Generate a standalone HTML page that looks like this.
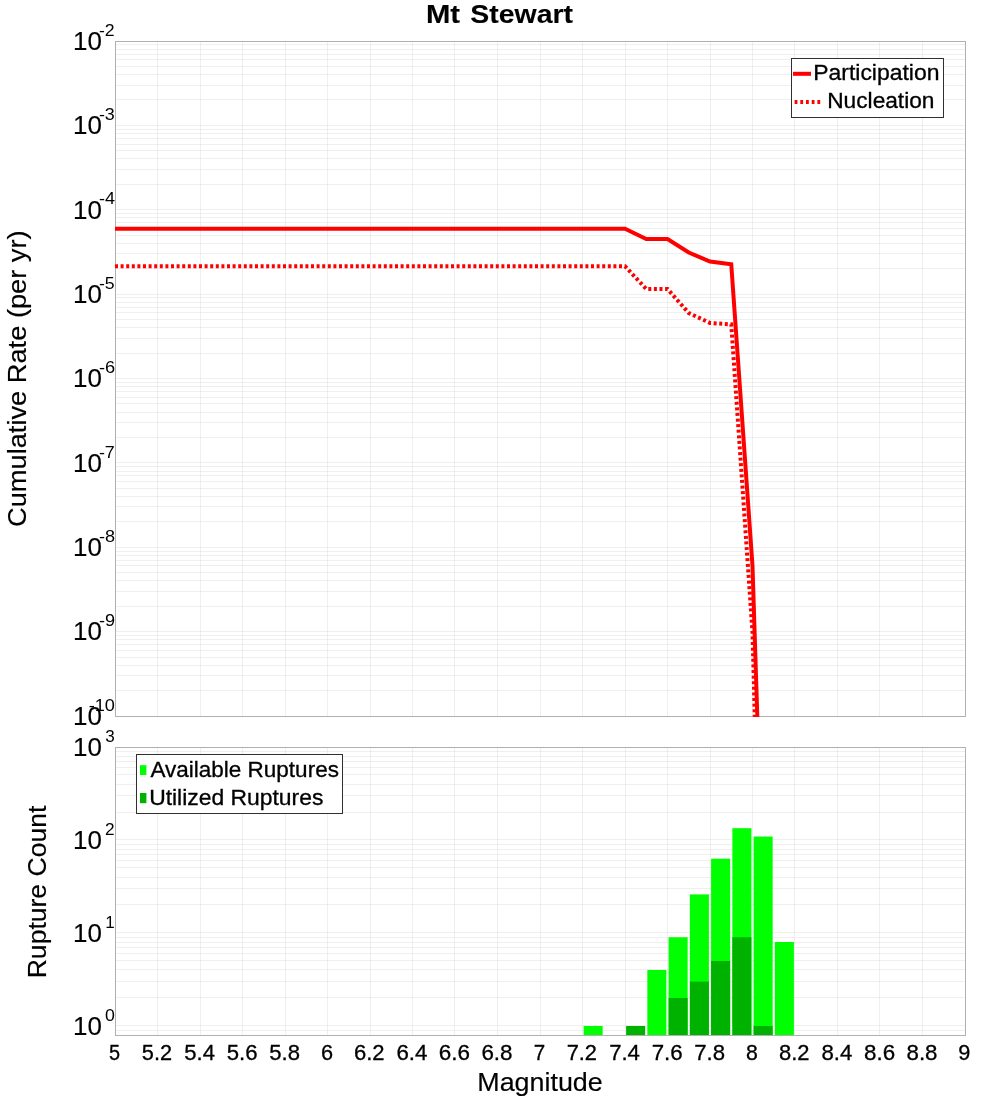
<!DOCTYPE html><html><head><meta charset="utf-8"><style>html,body{margin:0;padding:0;background:#fff;overflow:hidden}svg{display:block;will-change:transform}</style></head><body><svg width="1000" height="1100" viewBox="0 0 1000 1100" font-family="Liberation Sans, sans-serif">
<style>text{stroke:#000;stroke-width:0.35px}</style>
<rect width="1000" height="1100" fill="#fff"/>
<defs><clipPath id="cu"><rect x="115" y="41" width="851" height="676"/></clipPath><clipPath id="cl"><rect x="115" y="747" width="851" height="289"/></clipPath></defs>
<path d="M115 716.5H966M115 690.5H966M115 675.5H966M115 665.5H966M115 657.5H966M115 650.5H966M115 644.5H966M115 639.5H966M115 635.5H966M115 631.5H966M115 606.5H966M115 591.5H966M115 580.5H966M115 572.5H966M115 565.5H966M115 560.5H966M115 555.5H966M115 551.5H966M115 547.5H966M115 521.5H966M115 506.5H966M115 496.5H966M115 488.5H966M115 481.5H966M115 475.5H966M115 471.5H966M115 466.5H966M115 462.5H966M115 437.5H966M115 422.5H966M115 412.5H966M115 403.5H966M115 397.5H966M115 391.5H966M115 386.5H966M115 382.5H966M115 378.5H966M115 353.5H966M115 338.5H966M115 327.5H966M115 319.5H966M115 312.5H966M115 307.5H966M115 302.5H966M115 297.5H966M115 294.5H966M115 268.5H966M115 253.5H966M115 243.5H966M115 235.5H966M115 228.5H966M115 222.5H966M115 217.5H966M115 213.5H966M115 209.5H966M115 184.5H966M115 169.5H966M115 158.5H966M115 150.5H966M115 144.5H966M115 138.5H966M115 133.5H966M115 129.5H966M115 125.5H966M115 99.5H966M115 85.5H966M115 74.5H966M115 66.5H966M115 59.5H966M115 54.5H966M115 49.5H966M115 44.5H966M115 41.5H966" stroke="#d8d8d8" stroke-opacity="0.4" stroke-width="1" fill="none"/>
<path d="M115.5 41V717M157.5 41V717M200.5 41V717M242.5 41V717M285.5 41V717M327.5 41V717M370.5 41V717M412.5 41V717M454.5 41V717M497.5 41V717M540.5 41V717M582.5 41V717M625.5 41V717M667.5 41V717M710.5 41V717M752.5 41V717M794.5 41V717M837.5 41V717M879.5 41V717M922.5 41V717M965.5 41V717" stroke="#d8d8d8" stroke-opacity="0.4" stroke-width="1" fill="none"/>
<path d="M115 1035.5H966M115 1030.5H966M115 1025.5H966M115 997.5H966M115 981.5H966M115 969.5H966M115 960.5H966M115 953.5H966M115 947.5H966M115 942.5H966M115 937.5H966M115 932.5H966M115 904.5H966M115 888.5H966M115 877.5H966M115 867.5H966M115 860.5H966M115 854.5H966M115 849.5H966M115 844.5H966M115 839.5H966M115 812.5H966M115 795.5H966M115 784.5H966M115 774.5H966M115 767.5H966M115 761.5H966M115 756.5H966M115 751.5H966" stroke="#d8d8d8" stroke-opacity="0.4" stroke-width="1" fill="none"/>
<path d="M115.5 747V1036M157.5 747V1036M200.5 747V1036M242.5 747V1036M285.5 747V1036M327.5 747V1036M370.5 747V1036M412.5 747V1036M454.5 747V1036M497.5 747V1036M540.5 747V1036M582.5 747V1036M625.5 747V1036M667.5 747V1036M710.5 747V1036M752.5 747V1036M794.5 747V1036M837.5 747V1036M879.5 747V1036M922.5 747V1036M965.5 747V1036" stroke="#d8d8d8" stroke-opacity="0.4" stroke-width="1" fill="none"/>
<rect x="115.5" y="41.5" width="850" height="675" fill="none" stroke="#b0b0b0" stroke-width="1"/>
<rect x="115.5" y="747.5" width="850" height="288" fill="none" stroke="#b0b0b0" stroke-width="1"/>
<g clip-path="url(#cl)"><rect x="583.60" y="1025.99" width="19.05" height="9.01" fill="#00ff00"/><rect x="647.35" y="970.00" width="19.05" height="65.00" fill="#00ff00"/><rect x="668.60" y="937.25" width="19.05" height="97.75" fill="#00ff00"/><rect x="689.85" y="894.40" width="19.05" height="140.60" fill="#00ff00"/><rect x="711.10" y="858.66" width="19.05" height="176.34" fill="#00ff00"/><rect x="732.35" y="828.18" width="19.05" height="206.82" fill="#00ff00"/><rect x="753.60" y="836.52" width="19.05" height="198.48" fill="#00ff00"/><rect x="774.85" y="942.00" width="19.05" height="93.00" fill="#00ff00"/><rect x="626.10" y="1025.99" width="19.05" height="9.01" fill="#00b200"/><rect x="668.60" y="997.99" width="19.05" height="37.01" fill="#00b200"/><rect x="689.85" y="981.62" width="19.05" height="53.38" fill="#00b200"/><rect x="711.10" y="960.99" width="19.05" height="74.01" fill="#00b200"/><rect x="732.35" y="937.25" width="19.05" height="97.75" fill="#00b200"/><rect x="753.60" y="1025.99" width="19.05" height="9.01" fill="#00b200"/></g>
<g clip-path="url(#cu)"><polyline points="115.00,228.80 625.00,228.80 646.25,239.00 667.50,239.00 688.75,252.50 710.00,261.50 731.25,264.20 752.50,566.00 773.75,1230.00" fill="none" stroke="#ff0000" stroke-width="4" stroke-linejoin="miter"/><polyline points="115.00,266.20 625.00,266.20 646.25,289.00 667.50,289.00 688.75,313.00 710.00,323.00 731.25,324.40 752.50,632.50 773.75,1418.00" fill="none" stroke="#ff0000" stroke-width="4" stroke-dasharray="3 2.6" stroke-linejoin="miter"/></g>
<rect x="791.5" y="58.5" width="152" height="59" fill="#fff" stroke="#303030" stroke-width="1"/>
<line x1="793" y1="73.8" x2="811" y2="73.8" stroke="#ff0000" stroke-width="4"/>
<line x1="794.6" y1="102" x2="822" y2="102" stroke="#ff0000" stroke-width="4" stroke-dasharray="2.8 2.9"/>
<rect x="136.5" y="754.5" width="206" height="59" fill="#fff" stroke="#303030" stroke-width="1"/>
<rect x="140" y="765.2" width="6.4" height="9.8" fill="#00ff00"/>
<rect x="140" y="793" width="6.4" height="10.2" fill="#00b200"/>
<text transform="translate(813.21,79.80) scale(1.0829,1)" font-size="21.20" style="stroke-width:0.3px">Participation</text>
<text transform="translate(827.23,107.80) scale(1.0711,1)" font-size="21.20" style="stroke-width:0.3px">Nucleation</text>
<text transform="translate(150.44,777.20) scale(1.0614,1)" font-size="21.20" style="stroke-width:0.3px">Available Ruptures</text>
<text transform="translate(149.13,804.70) scale(1.0801,1)" font-size="21.20" style="stroke-width:0.3px">Utilized Ruptures</text>
<text transform="translate(425.92,23.20) scale(1.1521,1)" font-size="25.44" font-weight="bold" style="stroke-width:0.1px">Mt</text>
<text transform="translate(470.25,23.20) scale(1.1187,1)" font-size="25.44" font-weight="bold" style="stroke-width:0.1px">Stewart</text>
<text transform="translate(477.28,1091.00) scale(1.0569,1)" font-size="25.44" style="stroke-width:0.15px">Magnitude</text>
<text transform="translate(26.40,525.60) rotate(-90) scale(1.0707,1)" x="-1.27" y="0" font-size="25.44" style="stroke-width:0.15px">Cumulative Rate (per yr)</text>
<text transform="translate(46.40,976.10) rotate(-90) scale(1.0435,1)" x="-2.10" y="0" font-size="25.44" style="stroke-width:0.15px">Rupture Count</text>
<text transform="translate(108.89,1059.80) scale(0.9384,1)" font-size="21.20" style="stroke-width:0.3px">5</text>
<text transform="translate(141.78,1059.80) scale(1.0269,1)" font-size="21.20" style="stroke-width:0.3px">5.2</text>
<text transform="translate(184.26,1059.80) scale(1.0397,1)" font-size="21.20" style="stroke-width:0.3px">5.4</text>
<text transform="translate(226.76,1059.80) scale(1.0462,1)" font-size="21.20" style="stroke-width:0.3px">5.6</text>
<text transform="translate(269.26,1059.80) scale(1.0426,1)" font-size="21.20" style="stroke-width:0.3px">5.8</text>
<text transform="translate(320.95,1059.80) scale(1.0250,1)" font-size="21.20" style="stroke-width:0.3px">6</text>
<text transform="translate(353.89,1059.80) scale(1.0403,1)" font-size="21.20" style="stroke-width:0.3px">6.2</text>
<text transform="translate(396.38,1059.80) scale(1.0530,1)" font-size="21.20" style="stroke-width:0.3px">6.4</text>
<text transform="translate(438.87,1059.80) scale(1.0597,1)" font-size="21.20" style="stroke-width:0.3px">6.6</text>
<text transform="translate(481.38,1059.80) scale(1.0561,1)" font-size="21.20" style="stroke-width:0.3px">6.8</text>
<text transform="translate(533.76,1059.80) scale(0.9693,1)" font-size="21.20" style="stroke-width:0.3px">7</text>
<text transform="translate(566.65,1059.80) scale(1.0312,1)" font-size="21.20" style="stroke-width:0.3px">7.2</text>
<text transform="translate(609.14,1059.80) scale(1.0440,1)" font-size="21.20" style="stroke-width:0.3px">7.4</text>
<text transform="translate(651.63,1059.80) scale(1.0506,1)" font-size="21.20" style="stroke-width:0.3px">7.6</text>
<text transform="translate(694.14,1059.80) scale(1.0470,1)" font-size="21.20" style="stroke-width:0.3px">7.8</text>
<text transform="translate(746.08,1059.80) scale(1.0036,1)" font-size="21.20" style="stroke-width:0.3px">8</text>
<text transform="translate(779.01,1059.80) scale(1.0361,1)" font-size="21.20" style="stroke-width:0.3px">8.2</text>
<text transform="translate(821.50,1059.80) scale(1.0488,1)" font-size="21.20" style="stroke-width:0.3px">8.4</text>
<text transform="translate(864.00,1059.80) scale(1.0554,1)" font-size="21.20" style="stroke-width:0.3px">8.6</text>
<text transform="translate(906.50,1059.80) scale(1.0518,1)" font-size="21.20" style="stroke-width:0.3px">8.8</text>
<text transform="translate(958.36,1059.80) scale(1.0250,1)" font-size="21.20" style="stroke-width:0.3px">9</text>
<text transform="translate(73.10,49.86) scale(1.0206,1)" font-size="25.44" style="stroke-width:0.15px">10</text>
<text transform="translate(98.91,35.65) scale(1.0416,1)" font-size="16.96" style="stroke-width:0.0px">-2</text>
<text transform="translate(73.10,134.24) scale(1.0206,1)" font-size="25.44" style="stroke-width:0.15px">10</text>
<text transform="translate(98.90,120.03) scale(1.0554,1)" font-size="16.96" style="stroke-width:0.0px">-3</text>
<text transform="translate(73.10,218.61) scale(1.0206,1)" font-size="25.44" style="stroke-width:0.15px">10</text>
<text transform="translate(98.90,204.40) scale(1.0620,1)" font-size="16.96" style="stroke-width:0.0px">-4</text>
<text transform="translate(73.10,302.99) scale(1.0206,1)" font-size="25.44" style="stroke-width:0.15px">10</text>
<text transform="translate(98.91,288.77) scale(1.0433,1)" font-size="16.96" style="stroke-width:0.0px">-5</text>
<text transform="translate(73.10,387.36) scale(1.0206,1)" font-size="25.44" style="stroke-width:0.15px">10</text>
<text transform="translate(98.89,373.15) scale(1.0731,1)" font-size="16.96" style="stroke-width:0.0px">-6</text>
<text transform="translate(73.10,471.74) scale(1.0206,1)" font-size="25.44" style="stroke-width:0.15px">10</text>
<text transform="translate(98.90,457.52) scale(1.0565,1)" font-size="16.96" style="stroke-width:0.0px">-7</text>
<text transform="translate(73.10,556.11) scale(1.0206,1)" font-size="25.44" style="stroke-width:0.15px">10</text>
<text transform="translate(98.89,541.90) scale(1.0672,1)" font-size="16.96" style="stroke-width:0.0px">-8</text>
<text transform="translate(73.10,640.49) scale(1.0206,1)" font-size="25.44" style="stroke-width:0.15px">10</text>
<text transform="translate(98.89,626.27) scale(1.0676,1)" font-size="16.96" style="stroke-width:0.0px">-9</text>
<text transform="translate(73.10,724.86) scale(1.0206,1)" font-size="25.44" style="stroke-width:0.15px">10</text>
<text transform="translate(88.71,710.65) scale(1.0698,1)" font-size="16.96" style="stroke-width:0.0px">-10</text>
<text transform="translate(73.10,755.86) scale(1.0206,1)" font-size="25.44" style="stroke-width:0.15px">10</text>
<text transform="translate(105.28,741.65) scale(1.0079,1)" font-size="16.96" style="stroke-width:0.0px">3</text>
<text transform="translate(73.10,848.86) scale(1.0206,1)" font-size="25.44" style="stroke-width:0.15px">10</text>
<text transform="translate(105.02,834.65) scale(1.0160,1)" font-size="16.96" style="stroke-width:0.0px">2</text>
<text transform="translate(73.10,941.85) scale(1.0206,1)" font-size="25.44" style="stroke-width:0.15px">10</text>
<text transform="translate(105.20,927.64) scale(1.0034,1)" font-size="16.96" style="stroke-width:0.0px">1</text>
<text transform="translate(73.10,1034.85) scale(1.0206,1)" font-size="25.44" style="stroke-width:0.15px">10</text>
<text transform="translate(105.05,1020.64) scale(1.0471,1)" font-size="16.96" style="stroke-width:0.0px">0</text>
</svg></body></html>
